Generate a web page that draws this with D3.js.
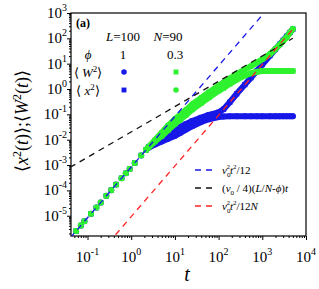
<!DOCTYPE html>
<html>
<head>
<meta charset="utf-8">
<script src="https://cdn.jsdelivr.net/npm/d3@7"></script>
<style>
  body { margin: 0; background: #fff; }
  svg { display: block; font-family: "Liberation Serif", "Times New Roman", serif; }
</style>
</head>
<body>
<svg id="chart" width="319" height="289"></svg>
<script>
// ballistic part, shared by all four data sets
const tEarly = [0.055, 0.07, 0.085, 0.12, 0.16, 0.2, 0.27, 0.35, 0.45, 0.6, 0.75, 0.92, 1.2, 1.7, 2.2];
const vEarly = [2.5e-6, 4.1e-6, 6.0e-6, 1.2e-5, 2.1e-5, 3.3e-5, 6.1e-5, 1.02e-4, 1.7e-4, 3.0e-4, 4.7e-4, 7.0e-4, 1.2e-3, 2.4e-3, 4.0e-3];

// later times (dense part of the curves)
const tLate = [2.5, 3.5, 5, 7, 10, 13, 18, 25, 40, 60, 100, 130, 180, 260, 400, 550, 750, 1000, 1500, 2000, 2500, 3000, 3600, 4300, 5000];
const w2Phi1  = [0.0048, 0.0065, 0.0085, 0.011, 0.014, 0.018, 0.025, 0.034, 0.05, 0.064, 0.079, 0.083, 0.085, 0.085, 0.085, 0.084, 0.085, 0.084, 0.085, 0.084, 0.084, 0.085, 0.084, 0.084, 0.084];
const x2Phi1  = [0.0052, 0.0085, 0.013, 0.018, 0.025, 0.032, 0.042, 0.055, 0.075, 0.095, 0.12, 0.16, 0.3, 0.65, 1.5, 2.8, 5.2, 9.3, 21, 37, 58, 83, 120, 170, 230];
const w2Phi03 = [0.005, 0.0085, 0.014, 0.024, 0.042, 0.06, 0.095, 0.155, 0.28, 0.46, 0.85, 1.1, 1.6, 2.35, 3.4, 4.2, 4.8, 5.1, 5.2, 5.2, 5.2, 5.2, 5.2, 5.2, 5.2];
const x2Phi03 = [0.0052, 0.0098, 0.019, 0.036, 0.065, 0.095, 0.15, 0.25, 0.45, 0.75, 1.35, 1.8, 2.6, 3.9, 6, 8, 11, 15, 24, 38, 56, 78, 110, 170, 236];

// guide lines: end points
const blueLineT = [0.04, 1200],  blueLineV = [1.33e-6, 1200];
const blackLineT = [0.04, 5000], blackLineV = [8.1e-4, 101];
const redLineT = [0.3, 5000],    redLineV = [8.3e-7, 231];

const xMajor = [0.1, 1, 10, 100, 1000, 10000];
const yMajor = [1e-5, 1e-4, 1e-3, 1e-2, 1e-1, 1, 10, 100, 1000];

const BLUE = "#1717e8", GREEN = "#2ef22e", RED = "#ff2424", BLACK = "#111";

const svg = d3.select("#chart");
const mLeft = 71, mRight = 306, mTop = 13, mBottom = 236;

const x = d3.scaleLog().domain([Math.pow(10, -1.378), 1e4]).range([mLeft, mRight]);
const y = d3.scaleLog().domain([Math.pow(10, -5.8), 1e3]).range([mBottom, mTop]);

function minorTicks(scale) {
  const [a, b] = scale.domain();
  const out = [];
  for (let p = Math.floor(Math.log10(a)); p < Math.ceil(Math.log10(b)); p++) {
    for (let m = 2; m <= 9; m++) {
      const v = m * Math.pow(10, p);
      if (v >= a && v <= b) out.push(v);
    }
  }
  return out;
}

svg.append("clipPath").attr("id", "plotclip")
  .append("rect").attr("x", mLeft).attr("y", mTop).attr("width", mRight - mLeft).attr("height", mBottom - mTop);

// axes
svg.append("g").attr("transform", `translate(0,${mBottom})`)
  .call(d3.axisBottom(x).tickValues(xMajor).tickSize(4).tickFormat(""))
  .call(g => g.select(".domain").remove());
svg.append("g").attr("transform", `translate(0,${mBottom})`)
  .call(d3.axisBottom(x).tickValues(minorTicks(x)).tickSize(2).tickFormat(""))
  .call(g => g.select(".domain").remove());
svg.append("g").attr("transform", `translate(${mLeft},0)`)
  .call(d3.axisLeft(y).tickValues(yMajor).tickSize(4).tickFormat(""))
  .call(g => g.select(".domain").remove());
svg.append("g").attr("transform", `translate(${mLeft},0)`)
  .call(d3.axisLeft(y).tickValues(minorTicks(y)).tickSize(2).tickFormat(""))
  .call(g => g.select(".domain").remove());

svg.append("rect").attr("x", mLeft).attr("y", mTop).attr("width", mRight - mLeft).attr("height", mBottom - mTop)
  .attr("fill", "none").attr("stroke", "#000").attr("stroke-width", 1.2);

// tick labels with superscripts
xMajor.forEach(v => {
  const t = svg.append("text").attr("x", x(v)).attr("y", 262).attr("text-anchor", "middle")
    .attr("font-size", 15);
  t.append("tspan").text("10");
  t.append("tspan").attr("dy", -7).attr("font-size", 10).text(Math.round(Math.log10(v)));
});
yMajor.forEach(v => {
  const t = svg.append("text").attr("x", 67).attr("y", y(v) + 5).attr("text-anchor", "end")
    .attr("font-size", 15);
  t.append("tspan").text("10");
  t.append("tspan").attr("dy", -7).attr("font-size", 10).text(Math.round(Math.log10(v)));
});

// axis titles
svg.append("text").attr("x", 187).attr("y", 281).attr("text-anchor", "middle")
  .attr("font-size", 20).attr("font-style", "italic").text("t");

const yt = svg.append("text").attr("transform", "translate(28,121) rotate(-90)")
  .attr("text-anchor", "middle").attr("font-size", 18);
yt.append("tspan").text("\u27E8");
yt.append("tspan").attr("font-style", "italic").text("x");
yt.append("tspan").attr("dy", -7).attr("font-size", 12).text("2");
yt.append("tspan").attr("dy", 7).text("(");
yt.append("tspan").attr("font-style", "italic").text("t");
yt.append("tspan").text(")\u27E9;\u27E8");
yt.append("tspan").attr("font-style", "italic").text("W");
yt.append("tspan").attr("dy", -7).attr("font-size", 12).text("2");
yt.append("tspan").attr("dy", 7).text("(");
yt.append("tspan").attr("font-style", "italic").text("t");
yt.append("tspan").text(")\u27E9");

// data sets
const series = [
  { t: tEarly.concat(tLate), v: vEarly.concat(w2Phi1),  color: BLUE,  shape: "circle" },
  { t: tEarly.concat(tLate), v: vEarly.concat(x2Phi1),  color: BLUE,  shape: "square" },
  { t: tEarly.concat(tLate), v: vEarly.concat(w2Phi03), color: GREEN, shape: "square" },
  { t: tEarly.concat(tLate), v: vEarly.concat(x2Phi03), color: GREEN, shape: "circle" }
];

const plot = svg.append("g").attr("clip-path", "url(#plotclip)");
const band = d3.line().x(d => x(d[0])).y(d => y(d[1]));

series.forEach(s => {
  const pts = s.t.map((t, i) => [t, s.v[i]]);
  plot.append("path").datum(pts.filter(d => d[0] >= 2.2))
    .attr("d", band).attr("fill", "none").attr("stroke", s.color)
    .attr("stroke-width", 6).attr("stroke-linejoin", "round").attr("stroke-linecap", "round");
  const sym = d3.symbol().type(s.shape === "circle" ? d3.symbolCircle : d3.symbolSquare).size(28);
  plot.selectAll(null).data(pts).enter().append("path")
    .attr("transform", d => `translate(${x(d[0])},${y(d[1])})`)
    .attr("d", sym).attr("fill", s.color);
});

// guide lines
const guides = [
  { t: blueLineT, v: blueLineV, color: BLUE },
  { t: blackLineT, v: blackLineV, color: BLACK },
  { t: redLineT, v: redLineV, color: RED }
];
guides.forEach(g => {
  plot.append("path").datum(g.t.map((t, i) => [t, g.v[i]]))
    .attr("d", band).attr("fill", "none").attr("stroke", g.color)
    .attr("stroke-width", 1.3).attr("stroke-dasharray", "6,5");
});

// panel label and top-left legend
svg.append("text").attr("x", 76).attr("y", 27).attr("font-size", 12).attr("font-weight", "bold").text("(a)");

function addText(xp, yp, parts, size) {
  const t = svg.append("text").attr("x", xp).attr("y", yp).attr("text-anchor", "middle").attr("font-size", size || 13);
  parts.forEach(p => {
    const s = t.append("tspan").text(p.s);
    if (p.i) s.attr("font-style", "italic");
    if (p.dy) s.attr("dy", p.dy);
    if (p.fs) s.attr("font-size", p.fs);
  });
  return t;
}
addText(123, 41, [{ s: "L", i: 1 }, { s: "=100" }]);
addText(168, 41, [{ s: "N", i: 1 }, { s: "=90" }]);
addText(88, 59, [{ s: "\u03D5", i: 1 }]);
addText(123, 59, [{ s: "1" }]);
addText(175, 59, [{ s: "0.3" }]);
addText(88, 77, [{ s: "\u27E8 " }, { s: "W", i: 1 }, { s: "2", dy: -5, fs: 9 }, { s: "\u27E9", dy: 5 }]);
addText(88, 95, [{ s: "\u27E8 " }, { s: "x", i: 1 }, { s: "2", dy: -5, fs: 9 }, { s: "\u27E9", dy: 5 }]);

const legendMarks = [
  { cx: 124, cy: 72, color: BLUE, shape: d3.symbolCircle },
  { cx: 176, cy: 72, color: GREEN, shape: d3.symbolSquare },
  { cx: 124, cy: 90, color: BLUE, shape: d3.symbolSquare },
  { cx: 176, cy: 90, color: GREEN, shape: d3.symbolCircle }
];
legendMarks.forEach(m => {
  svg.append("path").attr("transform", `translate(${m.cx},${m.cy})`)
    .attr("d", d3.symbol().type(m.shape).size(24)).attr("fill", m.color);
});

// bottom-right legend for the guide lines
const lineLegend = [
  { cy: 170, color: BLUE, parts: [{ s: "v", i: 1 }, { s: "0", dy: 3, fs: 7 }, { s: "2", dy: -8, fs: 7, dx: -4 }, { s: "t", i: 1, dy: 5 }, { s: "2", dy: -5, fs: 7 }, { s: "/12", dy: 5 }] },
  { cy: 188, color: BLACK, parts: [{ s: "(" }, { s: "v", i: 1 }, { s: "0", dy: 3, fs: 7 }, { s: " / 4)(", dy: -3 }, { s: "L", i: 1 }, { s: "/" }, { s: "N", i: 1 }, { s: "-" }, { s: "\u03D5", i: 1 }, { s: ")" }, { s: "t", i: 1 }] },
  { cy: 206, color: RED, parts: [{ s: "v", i: 1 }, { s: "0", dy: 3, fs: 7 }, { s: "2", dy: -8, fs: 7, dx: -4 }, { s: "t", i: 1, dy: 5 }, { s: "2", dy: -5, fs: 7 }, { s: "/12", dy: 5 }, { s: "N", i: 1 }] }
];
lineLegend.forEach(l => {
  svg.append("line").attr("x1", 195).attr("x2", 213).attr("y1", l.cy).attr("y2", l.cy)
    .attr("stroke", l.color).attr("stroke-width", 1.3).attr("stroke-dasharray", "6,5");
  const t = svg.append("text").attr("x", 222).attr("y", l.cy + 4).attr("font-size", 11);
  l.parts.forEach(p => {
    const s = t.append("tspan").text(p.s);
    if (p.i) s.attr("font-style", "italic");
    if (p.dy) s.attr("dy", p.dy);
    if (p.dx) s.attr("dx", p.dx);
    if (p.fs) s.attr("font-size", p.fs);
  });
});
</script>
</body>
</html>
